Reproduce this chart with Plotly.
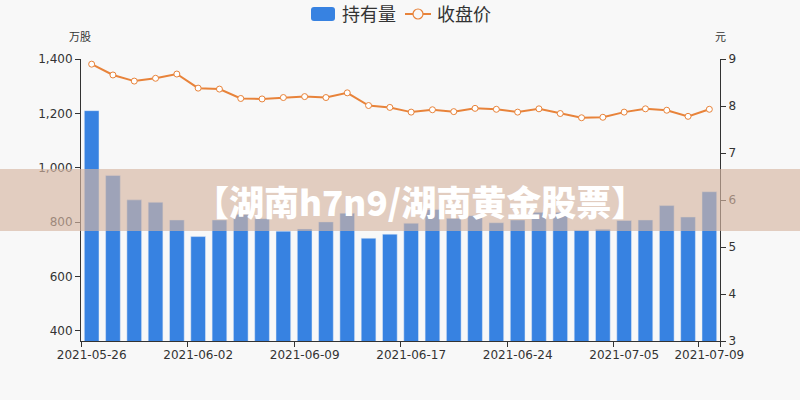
import plotly.graph_objects as go

dates = ["2021-05-26", "2021-05-27", "2021-05-28", "2021-05-31", "2021-06-01",
         "2021-06-02", "2021-06-03", "2021-06-04", "2021-06-07", "2021-06-08",
         "2021-06-09", "2021-06-10", "2021-06-11", "2021-06-15", "2021-06-16",
         "2021-06-17", "2021-06-18", "2021-06-21", "2021-06-22", "2021-06-23",
         "2021-06-24", "2021-06-25", "2021-06-28", "2021-06-29", "2021-06-30",
         "2021-07-05", "2021-07-06", "2021-07-07", "2021-07-08", "2021-07-09"]
holdings = [1210, 972, 882, 873, 808, 747, 808, 829, 813, 767,
            775, 801, 833, 741, 756, 796, 847, 814, 824, 798,
            808, 836, 836, 770, 774, 806, 808, 861, 819, 912]
close_price = [8.89, 8.66, 8.53, 8.59, 8.68, 8.38, 8.36, 8.16, 8.15, 8.18,
               8.20, 8.18, 8.28, 8.01, 7.97, 7.87, 7.92, 7.88, 7.95, 7.93,
               7.87, 7.94, 7.84, 7.75, 7.76, 7.87, 7.94, 7.91, 7.78, 7.93]
tick_dates = ["2021-05-26", "2021-06-02", "2021-06-09", "2021-06-17",
              "2021-06-24", "2021-07-05", "2021-07-09"]
series_names = ["持有量", "收盘价"]

FONT = "DejaVu Sans, Noto Sans CJK SC, sans-serif"
BLUE = "rgb(55,130,225)"
ORANGE = "#e8833a"
AX = "#333333"

L, R, T, B = 81, 80, 59, 59
PW, PH = 800 - L - R, 400 - T - B


def px(x):
    return (x - L) / PW


def py(y):
    return (400 - B - y) / PH


fig = go.Figure()
fig.add_trace(go.Bar(x=dates, y=holdings, name=series_names[0], marker_color=BLUE,
                     width=0.69, yaxis="y", showlegend=False))
fig.add_trace(go.Scatter(x=dates, y=close_price, name=series_names[1], yaxis="y2",
                         mode="lines+markers", showlegend=False,
                         line=dict(color=ORANGE, width=2),
                         marker=dict(symbol="circle", size=6, color="white",
                                     line=dict(color=ORANGE, width=1))))

fig.update_layout(
    width=800, height=400,
    margin=dict(l=L, r=R, t=T, b=B, autoexpand=False),
    paper_bgcolor="#f8f8f8", plot_bgcolor="#f8f8f8",
    font=dict(family=FONT, size=12, color=AX),
    showlegend=False,
    xaxis=dict(type="category", tickmode="array", tickvals=tick_dates,
               ticktext=tick_dates, tickson="boundaries", tickangle=0,
               automargin=False, ticklabelstandoff=3,
               ticks="outside", ticklen=5, tickcolor=AX,
               showline=True, linecolor=AX, linewidth=1,
               showgrid=False, zeroline=False,
               range=[-0.5, len(dates) - 0.5],
               tickfont=dict(size=12, color=AX)),
    yaxis=dict(range=[363, 1400], tickvals=[400, 600, 800, 1000, 1200, 1400],
               tickformat=",", ticks="outside", ticklen=5, tickcolor=AX,
               showline=True, linecolor=AX, linewidth=1, automargin=False,
               showgrid=False, zeroline=False,
               tickfont=dict(size=12, color=AX)),
    yaxis2=dict(range=[3, 9], tickvals=[3, 4, 5, 6, 7, 8, 9],
                overlaying="y", side="right", automargin=False,
                ticks="outside", ticklen=5, tickcolor=AX,
                showline=True, linecolor=AX, linewidth=1,
                showgrid=False, zeroline=False,
                tickfont=dict(size=12, color=AX)),
)

# axis names
fig.add_annotation(text="万股", xref="paper", yref="paper", x=px(80), y=py(38),
                   xanchor="center", yanchor="middle",
                   showarrow=False, font=dict(size=11, color=AX))
fig.add_annotation(text="元", xref="paper", yref="paper", x=px(720), y=py(38),
                   xanchor="center", yanchor="middle",
                   showarrow=False, font=dict(size=11, color=AX))

# custom legend: rounded rectangle for bars
x0, x1, y0, y1, r = 311, 335, 7, 21, 3


def P(x, y):
    return f"{px(x)},{py(y)}"


path = (f"M {P(x0 + r, y0)} L {P(x1 - r, y0)} Q {P(x1, y0)} {P(x1, y0 + r)} "
        f"L {P(x1, y1 - r)} Q {P(x1, y1)} {P(x1 - r, y1)} L {P(x0 + r, y1)} "
        f"Q {P(x0, y1)} {P(x0, y1 - r)} L {P(x0, y0 + r)} Q {P(x0, y0)} {P(x0 + r, y0)} Z")
fig.add_shape(type="path", xref="paper", yref="paper", path=path,
              fillcolor=BLUE, line=dict(width=0), layer="above")
fig.add_annotation(text=series_names[0], xref="paper", yref="paper", x=px(340), y=py(14),
                   xanchor="left", yanchor="middle", showarrow=False,
                   font=dict(size=18, color=AX))
fig.add_shape(type="line", xref="paper", yref="paper",
              x0=px(405), x1=px(431), y0=py(14), y1=py(14),
              line=dict(color=ORANGE, width=2), layer="above")
fig.add_shape(type="circle", xref="paper", yref="paper",
              x0=px(413), x1=px(423), y0=py(19), y1=py(9),
              fillcolor="#f8f8f8", line=dict(color=ORANGE, width=1.2), layer="above")
fig.add_annotation(text=series_names[1], xref="paper", yref="paper", x=px(435), y=py(14),
                   xanchor="left", yanchor="middle", showarrow=False,
                   font=dict(size=18, color=AX))

# overlay banner
fig.add_shape(type="rect", xref="paper", yref="paper",
              x0=px(0), x1=px(800), y0=py(231), y1=py(169),
              fillcolor="rgba(214,181,162,0.65)", line=dict(width=0), layer="above")
fig.add_annotation(text="【湖南h7n9/湖南黄金股票】", xref="paper", yref="paper",
                   x=px(420), y=py(200),
                   xanchor="center", yanchor="middle", showarrow=False,
                   font=dict(family="Noto Sans CJK SC", size=35, color="white",
                             weight=900))

fig.write_html("out.html")
